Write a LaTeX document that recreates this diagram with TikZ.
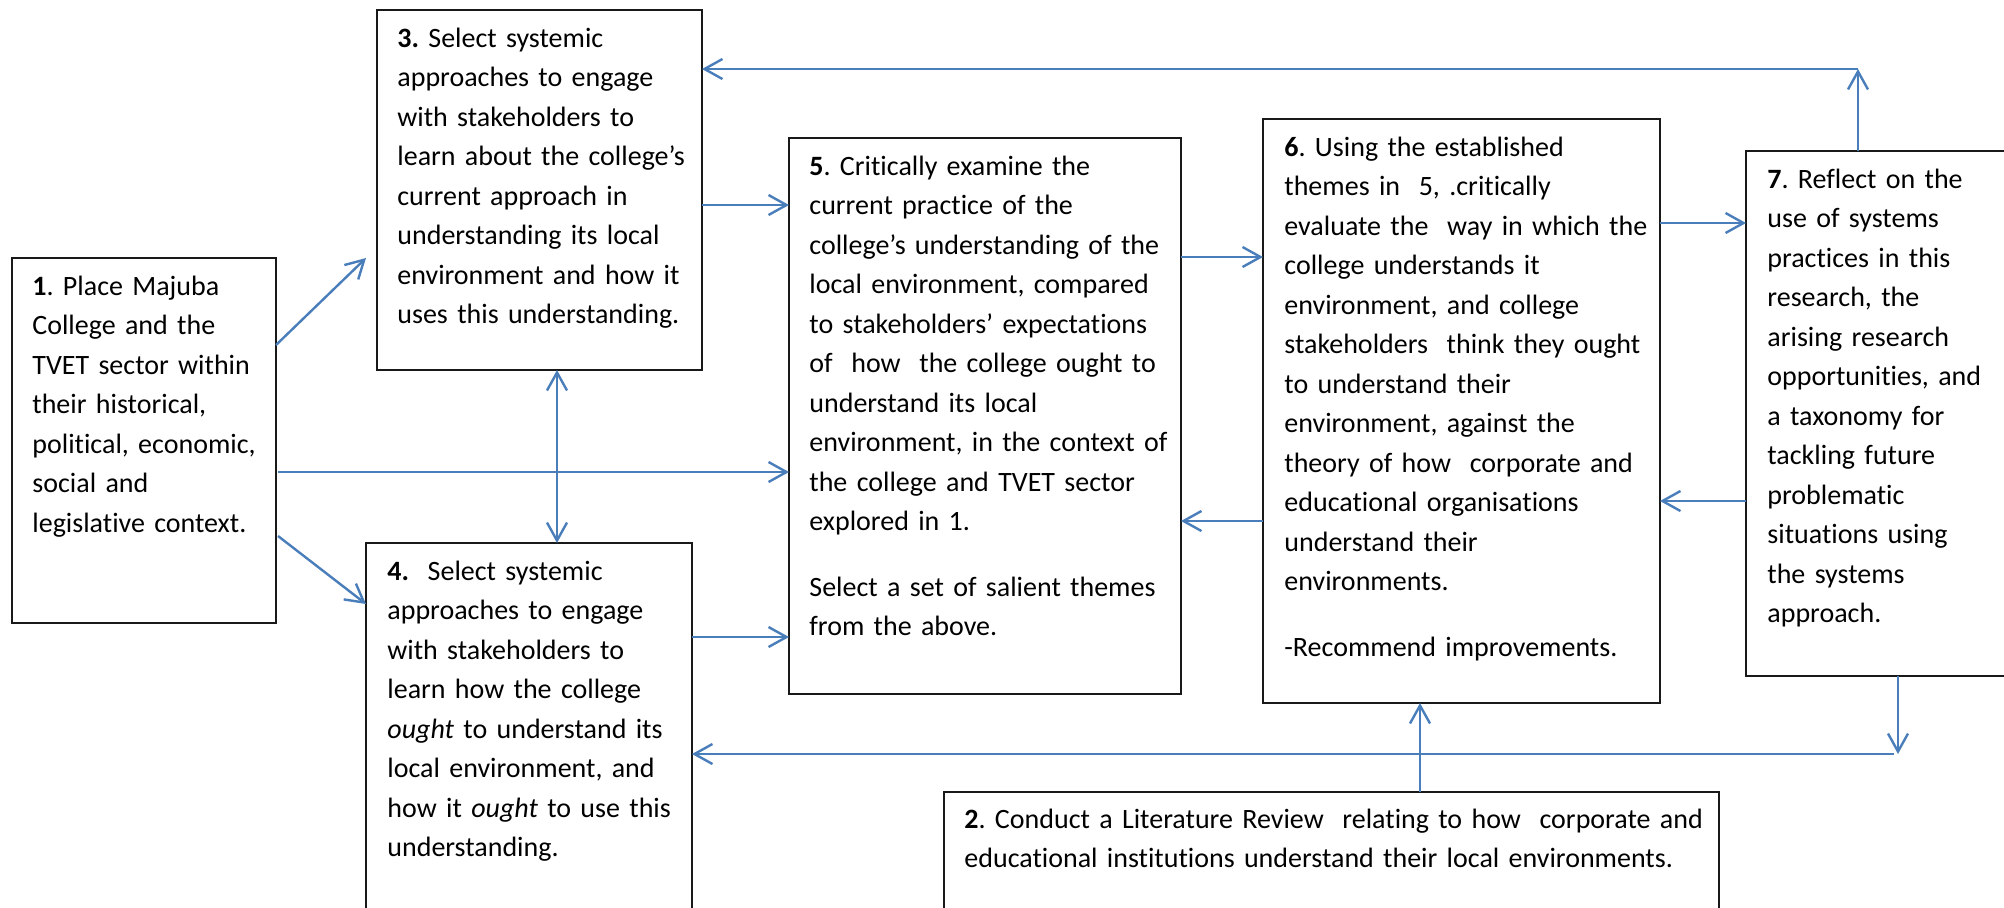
\documentclass[tikz,border=0pt]{standalone}
\usepackage{fontspec}
\setmainfont{Carlito}[Ligatures=NoCommon]
\usetikzlibrary{arrows.meta,calc}
\definecolor{link}{HTML}{4A7EBB}
\tikzset{
  box/.style={draw=black!90, line width=1pt, anchor=north west, inner sep=0pt, outer sep=0pt},
  txt/.style={anchor=base west, inner sep=0pt, align=left, text width=#1,
    font=\fontsize{14pt}{19.75pt}\selectfont\frenchspacing},
  arr/.style={draw=link, line width=1.2pt,
    -{Straight Barb[length=9pt,width=10pt,line width=1.2pt]}},
  biarr/.style={draw=link, line width=1.2pt,
    {Straight Barb[length=9pt,width=10pt,line width=1.2pt]}-{Straight Barb[length=9pt,width=10pt,line width=1.2pt]}},
}
\begin{document}
\begin{tikzpicture}[x=0.5pt,y=-0.5pt]
\useasboundingbox (0,0) rectangle (2004,907);
\clip (0,0) rectangle (2004,907);

% boxes
\node[box, minimum width=132pt, minimum height=182.5pt] (b1) at (12,258) {};
\node[box, minimum width=162.5pt, minimum height=180pt] (b3) at (377,10) {};
\node[box, minimum width=163pt, minimum height=193.5pt] (b4) at (366,543) {};
\node[box, minimum width=196pt, minimum height=278pt] (b5) at (789,138) {};
\node[box, minimum width=198.5pt, minimum height=292pt] (b6) at (1263,119) {};
\node[box, minimum width=137pt, minimum height=262.5pt] (b7) at (1746,151) {};
\node[box, minimum width=387.5pt, minimum height=69pt] (b2) at (944,792) {};

% box texts
\node[txt=128pt] (t1) at ($(b1.north west)+(20,37)$) {\textbf{1}. Place Majuba\\College and the\\TVET sector within\\their historical,\\political, economic,\\social and\\legislative context.};
\node[txt=160pt] (t3) at ($(b3.north west)+(20,37)$) {\textbf{3.} Select systemic\\approaches to engage\\with stakeholders to\\learn about the college’s\\current approach in\\understanding its local\\environment and how it\\uses this understanding.};
\node[txt=160pt] (t4) at ($(b4.north west)+(21,37)$) {\textbf{4.}\ \ Select systemic\\approaches to engage\\with stakeholders to\\learn how the college\\\textit{ought} to understand its\\local environment, and\\how it \textit{ought} to use this\\understanding.};
\node[txt=190pt] (t5) at ($(b5.north west)+(20,37)$) {\textbf{5}. Critically examine the\\current practice of the\\college’s understanding of the\\local environment, compared\\to stakeholders’ expectations\\of\ \ how\ \ the college ought to\\understand its local\\environment, in the context of\\the college and TVET sector\\explored in 1.\\[13pt]Select a set of salient themes\\from the above.};
\node[txt=192pt] (t6) at ($(b6.north west)+(21,37)$) {\textbf{6}. Using the established\\themes in\ \ 5, .critically\\evaluate the\ \ way in which the\\college understands it\\environment, and college\\stakeholders\ \ think they ought\\to understand their\\environment, against the\\theory of how\ \ corporate and\\educational organisations\\understand their\\environments.\\[13pt]-Recommend improvements.};
\node[txt=125pt] (t7) at ($(b7.north west)+(21,37)$) {\textbf{7}. Reflect on the\\use of systems\\practices in this\\research, the\\arising research\\opportunities, and\\a taxonomy for\\tackling future\\problematic\\situations using\\the systems\\approach.};
\node[txt=380pt] (t2) at ($(b2.north west)+(20,36)$) {\textbf{2}. Conduct a Literature Review\ \ relating to how\ \ corporate and\\educational institutions understand their local environments.};

% corner points of the loop-back lines
\coordinate (cTop) at ($(b7.north west)+(112,-82)$);
\coordinate (cBot) at ($(b7.south west)+(152,78)$);

% connectors
\draw[arr] ($(b1.north east)+(0,87)$) -- ($(b3.north west)+(-11,248)$);
\draw[arr] ($(b1.north east)+(2,214)$) -- ($(b5.north west)+(0,334)$);
\draw[arr] ($(b1.north east)+(2,278)$) -- ($(b4.north west)+(0,61)$);
\draw[biarr] ($(b3.south west)+(180,0)$) -- ($(b4.north west)+(191,0)$);
\draw[arr] ($(b3.north east)+(0,195)$) -- ($(b5.north west)+(0,67)$);
\draw[arr] ($(b4.north east)+(0,94)$) -- ($(b5.north west)+(0,499)$);
\draw[arr] ($(b5.north east)+(0,119)$) -- ($(b6.north west)+(0,138)$);
\draw[arr] ($(b6.north west)+(0,402)$) -- ($(b5.north east)+(0,383)$);
\draw[arr] ($(b6.north east)+(0,104)$) -- ($(b7.north west)+(0,72)$);
\draw[arr] ($(b7.north west)+(0,350)$) -- ($(b6.north east)+(0,382)$);
\draw[arr] ($(b7.north west)+(112,0)$) -- (cTop);
\draw[arr] (cTop) -- ($(b3.north east)+(0,59)$);
\draw[arr] ($(b7.south west)+(152,0)$) -- (cBot);
\draw[arr] ($(cBot)+(-4,0)$) -- ($(b4.north east)+(0,211)$);
\draw[arr] ($(b2.north west)+(476,0)$) -- ($(b6.south west)+(157,0)$);
\end{tikzpicture}
\end{document}
